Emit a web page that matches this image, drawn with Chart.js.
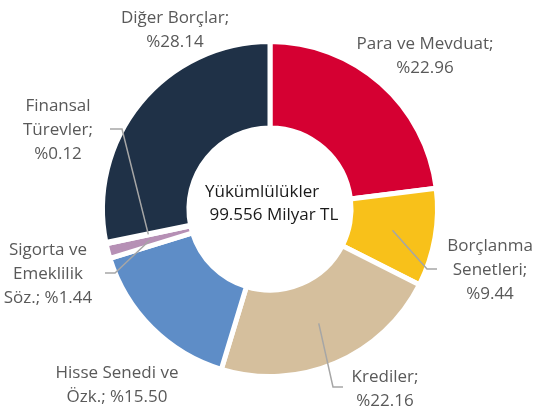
<!DOCTYPE html>
<html lang="tr">
<head>
    <meta charset="UTF-8">
    <title>Yükümlülükler</title>
    <script src="https://cdn.jsdelivr.net/npm/chart.js"></script>
    <style>
        body {
            margin: 0;
            background: #fff;
        }
        #wrap {
            width: 534px;
            height: 411px;
        }
    </style>
</head>
<body>
    <div id="wrap">
        <canvas id="liabChart" width="534" height="411"></canvas>
    </div>

    <script>
        // Data
        const categories = ['Para ve Mevduat', 'Borçlanma Senetleri', 'Krediler', 'Hisse Senedi ve Özk.', 'Sigorta ve Emeklilik Söz.', 'Finansal Türevler', 'Diğer Borçlar'];
        const shares = [22.96, 9.44, 22.16, 15.50, 1.44, 0.12, 28.14];
        // how each label wraps; {v} is replaced with the share
        const labelLines = [
            ['Para ve Mevduat;', '{v}'],
            ['Borçlanma', 'Senetleri;', '{v}'],
            ['Krediler;', '{v}'],
            ['Hisse Senedi ve', 'Özk.; {v}'],
            ['Sigorta ve', 'Emeklilik', 'Söz.; {v}'],
            ['Finansal', 'Türevler;', '{v}'],
            ['Diğer Borçlar;', '{v}']
        ];
        const centerLines = ['Yükümlülükler', ' 99.556 Milyar TL'];
        const colors = ['#d50032', '#f8c11a', '#d5bf9d', '#5e8dc7', '#b690b5', '#8c8c8c', '#1f3147'];

        // label placement (text centre x, first line y, optional leader elbow/end)
        const labelPos = [
            { x: 425, y: 44 },
            { x: 490, y: 246, elbow: [427, 269], end: [437, 269] },
            { x: 385, y: 377, elbow: [333, 387], end: [343, 387] },
            { x: 117, y: 373 },
            { x: 48, y: 250, elbow: [115, 273], end: [105, 273] },
            { x: 58, y: 106, elbow: [122, 129], end: [110, 129] },
            { x: 175, y: 18 }
        ];

        const labelPlugin = {
            id: 'outerLabels',
            afterDraw(chart) {
                const ctx = chart.ctx;
                const meta = chart.getDatasetMeta(0);
                ctx.save();
                // leader lines
                ctx.strokeStyle = '#a6a6a6';
                ctx.lineWidth = 1.5;
                meta.data.forEach((arc, i) => {
                    const p = labelPos[i];
                    if (!p.elbow) return;
                    const c = arc.tooltipPosition();
                    ctx.beginPath();
                    ctx.moveTo(c.x, c.y);
                    ctx.lineTo(p.elbow[0], p.elbow[1]);
                    ctx.lineTo(p.end[0], p.end[1]);
                    ctx.stroke();
                });
                // texts
                ctx.font = '17px "Open Sans"';
                ctx.fillStyle = '#595959';
                ctx.textAlign = 'center';
                ctx.textBaseline = 'middle';
                labelLines.forEach((lines, i) => {
                    const p = labelPos[i];
                    lines.forEach((t, j) => {
                        const txt = t.replace('{v}', '%' + shares[i].toFixed(2));
                        ctx.fillText(txt, p.x, p.y + j * 24);
                    });
                });
                // centre text
                const a = meta.data[0];
                ctx.fillStyle = '#1a1a1a';
                ctx.textAlign = 'left';
                ctx.fillText(centerLines[0], a.x - 65, a.y - 17);
                ctx.fillText(centerLines[1], a.x - 65, a.y + 6);
                ctx.restore();
            }
        };

        const ctx = document.getElementById('liabChart').getContext('2d');
        new Chart(ctx, {
            type: 'doughnut',
            data: {
                labels: categories,
                datasets: [{
                    data: shares,
                    backgroundColor: colors,
                    borderColor: '#fff',
                    borderWidth: 5
                }]
            },
            options: {
                responsive: false,
                animation: false,
                cutout: '48.4%',
                layout: {
                    padding: { top: 39, bottom: 32, left: 10, right: 4 }
                },
                plugins: {
                    legend: { display: false },
                    tooltip: { enabled: false }
                }
            },
            plugins: [labelPlugin]
        });
    </script>
</body>
</html>
